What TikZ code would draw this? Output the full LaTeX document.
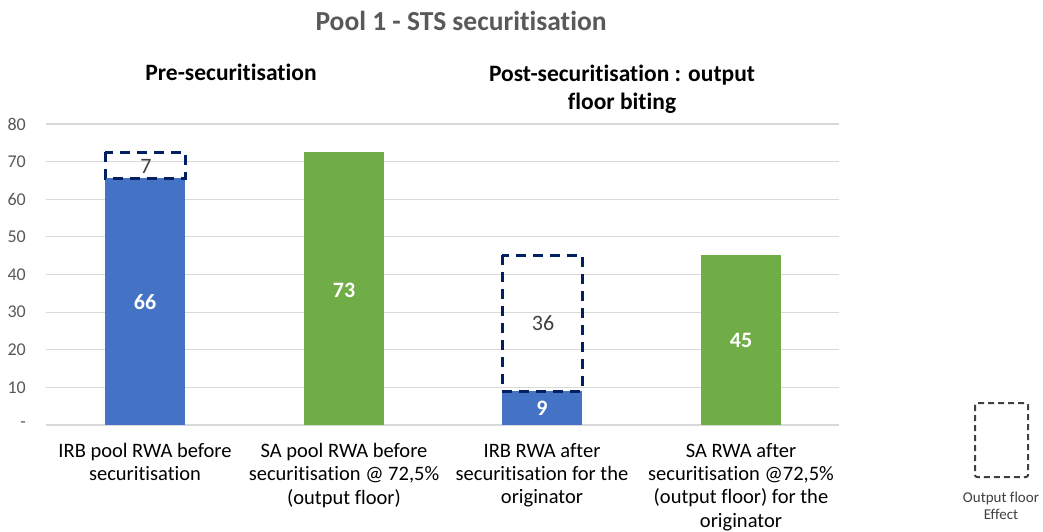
\documentclass[tikz,border=0pt]{standalone}
\usepackage{fontspec}
\setmainfont{Carlito}[Ligatures=NoCommon]
\definecolor{barblue}{RGB}{68,114,196}
\definecolor{bargreen}{RGB}{112,173,71}
\definecolor{gridgray}{RGB}{217,217,217}
\definecolor{txtgray}{RGB}{89,89,89}
\definecolor{navy}{RGB}{0,32,96}
\definecolor{lblgray}{RGB}{64,64,64}
\begin{document}
\begin{tikzpicture}[x=1pt,y=-1pt,
  grid/.style={draw=gridgray,line width=1.2pt},
  ylab/.style={anchor=east,font=\fontsize{18}{20}\selectfont,text=txtgray,inner sep=0pt},
  catlab/.style={align=center,font=\fontsize{20.5}{23.3}\selectfont,text=black,anchor=north,inner sep=0pt},
  vallab/.style={font=\bfseries\fontsize{22}{24}\selectfont,text=white,inner sep=0pt},
  effectlab/.style={font=\fontsize{22}{24}\selectfont,text=lblgray,inner sep=0pt},
  effectbox/.style={draw=navy,line width=3pt,dash pattern=on 10pt off 7pt},
  head/.style={font=\bfseries\fontsize{23.5}{28}\selectfont,align=center,inner sep=0pt}]
\useasboundingbox (0,0) rectangle (1043,531);
\fill[white] (0,0) rectangle (1043,531);
% grid
\foreach \v/\lab in {0/-,10/10,20/20,30/30,40/40,50/50,60/60,70/70,80/80}{
  \draw[grid] (46,{425-3.7625*\v}) -- (839,{425-3.7625*\v});
  \node[ylab] (y\v) at (26,{425-3.7625*\v}) {\lab};
}
% bars
\fill[barblue] (105,178) rectangle (185,425);
\fill[bargreen] (304,152) rectangle (384,425);
\fill[barblue] (502,391) rectangle (582,425);
\fill[bargreen] (701,255) rectangle (781,425);
% effect boxes
\draw[effectbox] (105,152) rectangle (185,178);
\draw[effectbox] (502,255) rectangle (582,391);
% values
\node[vallab] (v1) at (145,302) {66};
\node[vallab] (v2) at (344,290) {73};
\node[vallab] (v3) at (542,408) {9};
\node[vallab] (v4) at (741,340) {45};
\node[effectlab] (e1) at (146,166) {7};
\node[effectlab] (e3) at (543,323) {36};
% categories
\node[catlab] (c1) at (145,443) {IRB pool RWA before\\securitisation};
\node[catlab] (c2) at (344,443) {SA pool RWA before\\securitisation @ 72,5\%\\(output floor)};
\node[catlab] (c3) at (542,443) {IRB RWA after\\securitisation for the\\originator};
\node[catlab] (c4) at (741,443) {SA RWA after\\securitisation @72,5\%\\(output floor) for the\\originator};
% headings
\node[font=\bfseries\fontsize{27.5}{30}\selectfont,text=txtgray,inner sep=0pt] (title) at (461,21) {Pool 1 - STS securitisation};
\node[head] (pre) at (231,72) {Pre-securitisation};
\node[head] (post) at (622,89) {Post-securitisation : output\\floor biting};
% legend
\draw[draw=lblgray,line width=2pt,dash pattern=on 6pt off 4pt,rounded corners=2pt] (975,403) rectangle (1028,477);
\node[align=center,font=\fontsize{15}{17}\selectfont,text=lblgray,inner sep=0pt] (leg) at (1001,506) {Output floor\\Effect};
\end{tikzpicture}
\end{document}
